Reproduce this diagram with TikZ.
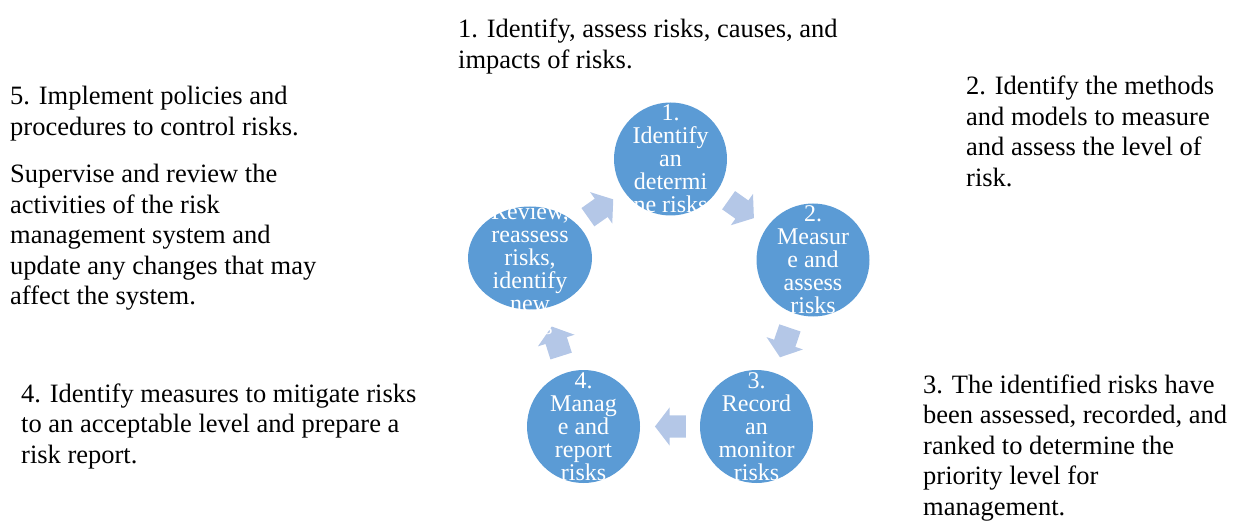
\documentclass[tikz,border=0pt]{standalone}
\usepackage{fontspec}
\setmainfont{Liberation Serif}
\usepackage{xcolor}
\usetikzlibrary{shapes.geometric,shapes.arrows}
\definecolor{stageblue}{HTML}{5B9BD5}
\definecolor{flowblue}{HTML}{B4C7E7}

\begin{document}
\begin{tikzpicture}[x=1pt,y=-1pt,
  every node/.style={align=center},
  stage/.style={circle,fill=stageblue,minimum size=113pt,inner sep=0pt},
  stagetext/.style={text=white,inner sep=0pt,font=\fontsize{24}{23}\selectfont},
  flow/.style={single arrow,fill=flowblue,minimum height=31pt,inner xsep=0pt,
               inner ysep=11pt,single arrow head extend=8pt,single arrow tip angle=105,
               sloped,allow upside down},
  note/.style={anchor=base west,align=left,inner sep=0pt,
               font=\fontsize{26.5}{30.5}\selectfont}
]
\useasboundingbox (0,0) rectangle (1239,521);

\node[stage]  (s1) at (670.5,159) {};
\node[stage]  (s2) at (813,260)   {};
\node[stage]  (s3) at (756.5,426.5) {};
\node[stage]  (s4) at (583.5,426.5) {};
\node[stage,ellipse,minimum width=124pt,minimum height=103pt] (s5) at (530,258) {};

\foreach \a/\b in {s1/s2,s2/s3,s3/s4,s4/s5,s5/s1} { \path (\a) -- (\b) node[flow,pos=0.42] (f\a) {}; }

\node[stagetext] (t1) at (s1) {1.\\Identify\\an\\determi\\ne risks};
\node[stagetext] (t2) at (s2) {2.\\Measur\\e and\\assess\\risks};
\node[stagetext] (t3) at (s3) {3.\\Record\\an\\monitor\\risks};
\node[stagetext] (t4) at (s4) {4.\\Manag\\e and\\report\\risks};
\node[stagetext] (t5) at (s5) {5.\\Review,\\reassess\\risks,\\identify\\new\\risks};

% base anchor sits on the last line
\node[note] (n1) at (458,68.5) {1. Identify, assess risks, causes, and\\impacts of risks.};
\node[note] (n2) at (966,186.5) {2. Identify the methods\\and models to measure\\and assess the level of\\risk.};
\node[note] (n3) at (923,515) {3. The identified risks have\\been assessed, recorded, and\\ranked to determine the\\priority level for\\management.};
\node[note] (n4) at (21,463) {4. Identify measures to mitigate risks\\to an acceptable level and prepare a\\risk report.};
\node[note] (n5) at (10,135.5) {5. Implement policies and\\procedures to control risks.};
\node[note] (n6) at (10,305) {Supervise and review the\\activities of the risk\\management system and\\update any changes that may\\affect the system.};

\end{tikzpicture}
\end{document}
